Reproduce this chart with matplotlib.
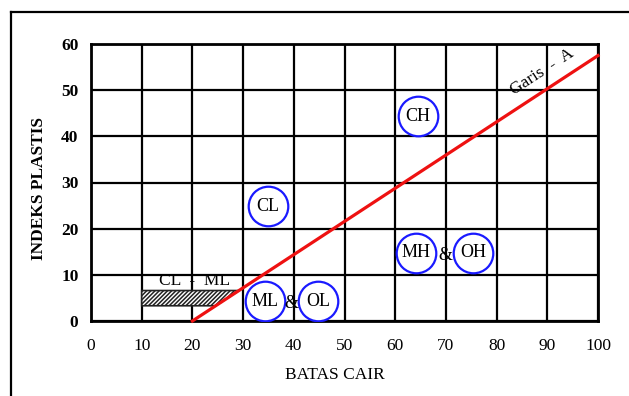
import matplotlib
matplotlib.use("Agg")
import matplotlib.pyplot as plt
from matplotlib.patches import Polygon
from matplotlib.lines import Line2D
import numpy as np

# Data
x_ticks = [0, 10, 20, 30, 40, 50, 60, 70, 80, 90, 100]
y_ticks = [0, 10, 20, 30, 40, 50, 60]
a_line_ll = [20, 100]
a_line_pi = [0, 57.5]
zone_labels = ["CH", "CL", "MH", "OH", "ML", "OL"]
zone_ll = [64.5, 34.9, 64.1, 75.3, 34.3, 44.8]
zone_pi = [44.4, 24.9, 14.8, 14.8, 4.3, 4.3]
amp_ll = [69.9, 39.5]
amp_pi = [14.2, 3.8]
hatch_ll_left = 10
hatch_pi = [3.3, 6.6]

plt.rcParams['font.family'] = ['Liberation Serif', 'DejaVu Serif']
plt.rcParams['hatch.linewidth'] = 1.1

fig = plt.figure(figsize=(6.29, 3.96), dpi=100)
ax = fig.add_axes([91/629, 1-321/396, (598-91)/629, (321-44)/396])
ax.set_xlim(0, 100)
ax.set_ylim(0, 60)
ax.set_xticks(x_ticks)
ax.set_yticks(y_ticks)
ax.grid(True, color='black', linewidth=1.6)
ax.set_axisbelow(True)
for s in ax.spines.values():
    s.set_linewidth(2.0)
ax.tick_params(length=0, labelsize=12.5)
ax.tick_params(axis='x', pad=12)
ax.tick_params(axis='y', pad=9)
for lab in ax.get_yticklabels():
    lab.set_fontweight('bold')

# hatched zone bounded by A-line
slope = (a_line_pi[1]-a_line_pi[0])/(a_line_ll[1]-a_line_ll[0])
def ll_at(pi):
    return a_line_ll[0] + (pi - a_line_pi[0]) / slope
poly = Polygon([(hatch_ll_left, hatch_pi[0]), (ll_at(hatch_pi[0]), hatch_pi[0]),
                (ll_at(hatch_pi[1]), hatch_pi[1]), (hatch_ll_left, hatch_pi[1])],
               closed=True, facecolor='white', edgecolor='#222222', hatch='////////', linewidth=1.2, zorder=3)
ax.add_patch(poly)
ax.text(20.5, 8.7, "CL  -  ML", ha='center', va='center', fontsize=12.5, zorder=4)

# A-line
ax.plot(a_line_ll, a_line_pi, color='#ee1111', linewidth=2.3, zorder=5, clip_on=False)
ax.text(89.0, 54.0, "Garis  -  A", rotation=33, ha='center', va='center',
        rotation_mode='anchor', fontsize=12.5, zorder=6)

# circles
for lab, xx, yy in zip(zone_labels, zone_ll, zone_pi):
    ax.plot([xx], [yy], marker='o', markersize=28.5, markerfacecolor='white',
            markeredgecolor='#1a1aff', markeredgewidth=1.6, zorder=6)
    ax.text(xx, yy, lab, ha='center', va='center', fontsize=13, zorder=7)
for xx, yy in zip(amp_ll, amp_pi):
    ax.text(xx, yy, "&", ha='center', va='center', fontsize=13, zorder=7)

fig.text(335/629, 1-375/396, "BATAS CAIR", ha='center', va='center', fontsize=12.5)
fig.text(39/629, 1-188/396, "INDEKS PLASTIS", ha='center', va='center', fontsize=12.5,
         rotation=90, fontweight='bold')

# outer frame
fig.add_artist(Line2D([11/629, 11/629], [0, 1-12/396], transform=fig.transFigure, color='black', linewidth=1.6))
fig.add_artist(Line2D([11/629, 1], [1-12/396, 1-12/396], transform=fig.transFigure, color='black', linewidth=1.6))

fig.savefig("out.png", dpi=100)
